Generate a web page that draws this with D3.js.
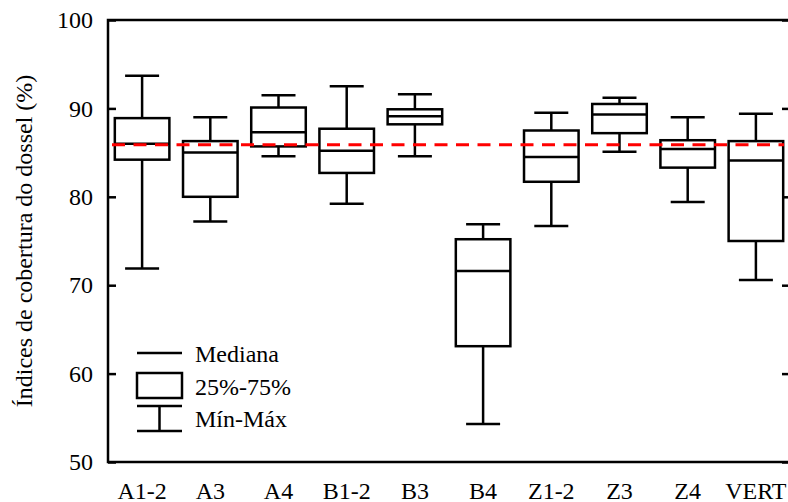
<!DOCTYPE html>
<html>
<head>
<meta charset="utf-8">
<script src="https://cdn.jsdelivr.net/npm/d3@7"></script>
<style>
  body { margin: 0; background: #fff; }
</style>
</head>
<body>
<div id="chart"></div>
<script>
// data
var sites = ["A1-2", "A3", "A4", "B1-2", "B3", "B4", "Z1-2", "Z3", "Z4", "VERT"];
var minVals = [71.9, 77.2, 84.6, 79.2, 84.6, 54.3, 76.7, 85.1, 79.4, 70.6];
var q1Vals = [84.2, 80.0, 85.7, 82.7, 88.2, 63.1, 81.7, 87.2, 83.3, 75.0];
var medVals = [86.0, 85.0, 87.3, 85.2, 89.1, 71.6, 84.5, 89.3, 85.4, 84.1];
var q3Vals = [88.9, 86.3, 90.1, 87.7, 89.9, 75.2, 87.5, 90.5, 86.4, 86.3];
var maxVals = [93.7, 89.0, 91.5, 92.5, 91.6, 76.9, 89.5, 91.2, 89.0, 89.4];
var meanLine = 85.9;
var yTicks = [50, 60, 70, 80, 90, 100];

var width = 788, height = 502;
var margin = { top: 20, right: -2, bottom: 40, left: 108 };
var font = '"Liberation Serif"';

var svg = d3.select("#chart")
    .append("svg")
    .attr("width", width)
    .attr("height", height);

var x = d3.scaleBand()
    .domain(sites)
    .range([margin.left, width - margin.right])
    .paddingInner(0.2)
    .paddingOuter(0.1);

var y = d3.scaleLinear()
    .domain([50, 100])
    .range([height - margin.bottom, margin.top]);

var boxes = sites.map((s, i) => ({
    name: s, min: minVals[i], q1: q1Vals[i], med: medVals[i], q3: q3Vals[i], max: maxVals[i]
}));

var lw = 2.5;
var capW = 34;

// frame
var x0 = margin.left, x1 = width - margin.right;
svg.append("rect")
    .attr("x", x0).attr("y", margin.top)
    .attr("width", x1 - x0).attr("height", y(50) - margin.top)
    .attr("fill", "none").attr("stroke", "#000").attr("stroke-width", lw);

// left axis with inward ticks
var yAxisL = svg.append("g")
    .attr("transform", `translate(${x0},0)`)
    .call(d3.axisLeft(y).tickValues(yTicks).tickSizeInner(-8).tickSizeOuter(0).tickPadding(15));
yAxisL.select(".domain").remove();
yAxisL.selectAll("line").attr("stroke-width", lw);
yAxisL.selectAll("text")
    .style("font-size", "24px")
    .style("font-family", font)
    .attr("fill", "#000");

var yAxisR = svg.append("g")
    .attr("transform", `translate(${x1},0)`)
    .call(d3.axisRight(y).tickValues(yTicks).tickSizeInner(-8).tickSizeOuter(0).tickFormat(""));
yAxisR.select(".domain").remove();
yAxisR.selectAll("line").attr("stroke-width", lw);

// x labels
svg.append("g")
    .selectAll("text")
    .data(sites)
    .join("text")
    .attr("x", d => x(d) + x.bandwidth() / 2)
    .attr("y", 499)
    .attr("text-anchor", "middle")
    .style("font-family", font)
    .style("font-size", "24px")
    .text(d => d);

// y label
svg.append("text")
    .attr("transform", `translate(32,${(y(50) + y(100)) / 2}) rotate(-90)`)
    .attr("text-anchor", "middle")
    .style("font-family", font)
    .style("font-size", "24px")
    .text("Índices de cobertura do dossel (%)");

// boxes
var g = svg.append("g")
    .attr("stroke", "#000")
    .attr("stroke-width", lw)
    .attr("fill", "none");

var box = g.selectAll("g.box")
    .data(boxes)
    .join("g")
    .attr("class", "box")
    .attr("transform", d => `translate(${x(d.name) + x.bandwidth() / 2},0)`);

box.append("line")
    .attr("y1", d => y(d.max)).attr("y2", d => y(d.q3));
box.append("line")
    .attr("y1", d => y(d.q1)).attr("y2", d => y(d.min));
box.append("line")
    .attr("x1", -capW / 2).attr("x2", capW / 2)
    .attr("y1", d => y(d.max)).attr("y2", d => y(d.max));
box.append("line")
    .attr("x1", -capW / 2).attr("x2", capW / 2)
    .attr("y1", d => y(d.min)).attr("y2", d => y(d.min));
box.append("rect")
    .attr("x", -x.bandwidth() / 2)
    .attr("width", x.bandwidth())
    .attr("y", d => y(d.q3))
    .attr("height", d => y(d.q1) - y(d.q3));
box.append("line")
    .attr("x1", -x.bandwidth() / 2).attr("x2", x.bandwidth() / 2)
    .attr("y1", d => y(d.med)).attr("y2", d => y(d.med));

// red dashed reference line
svg.append("line")
    .attr("x1", x0 + 4).attr("x2", 784)
    .attr("y1", y(meanLine)).attr("y2", y(meanLine))
    .attr("stroke", "#ff0000")
    .attr("stroke-width", 3)
    .attr("stroke-dasharray", "13,8.5");

// legend
var leg = svg.append("g").attr("stroke", "#000").attr("stroke-width", lw).attr("fill", "none");
leg.append("line").attr("x1", 137).attr("x2", 182).attr("y1", 353).attr("y2", 353);
leg.append("rect").attr("x", 137).attr("y", 373).attr("width", 45).attr("height", 25);
leg.append("line").attr("x1", 137).attr("x2", 182).attr("y1", 406).attr("y2", 406);
leg.append("line").attr("x1", 137).attr("x2", 182).attr("y1", 431).attr("y2", 431);
leg.append("line").attr("x1", 159.5).attr("x2", 159.5).attr("y1", 406).attr("y2", 431);

var legText = ["Mediana", "25%-75%", "Mín-Máx"];
var legY = [362, 395, 427];
svg.append("g")
    .selectAll("text")
    .data(legText)
    .join("text")
    .attr("x", 195)
    .attr("y", (d, i) => legY[i])
    .style("font-family", font)
    .style("font-size", "24px")
    .text(d => d);
</script>
</body>
</html>
